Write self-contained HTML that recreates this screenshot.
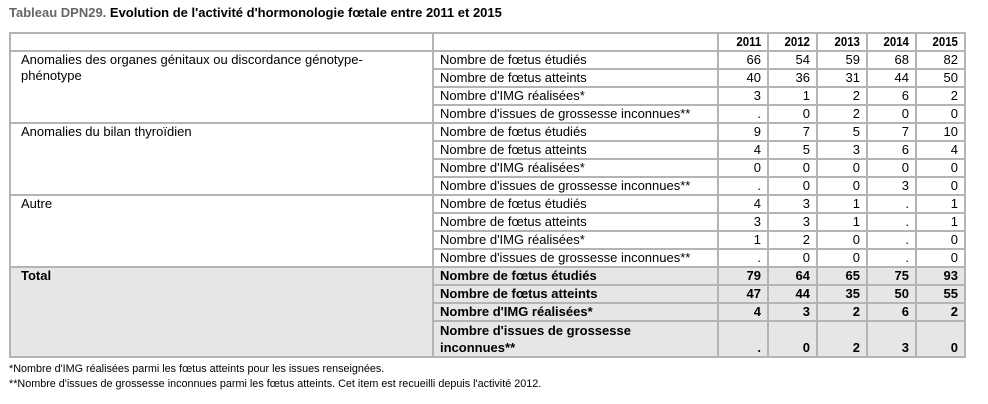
<!DOCTYPE html>
<html><head><meta charset="utf-8"><style>
body{margin:0;background:#fff;width:988px;height:404px;position:relative;font-family:"Liberation Sans",Arial,sans-serif;color:#000;overflow:hidden}
.title{position:absolute;left:9px;top:5px;font-size:13px;font-weight:bold;}
.title span{color:#666}
table{position:absolute;left:9px;top:32px;border-collapse:collapse;table-layout:fixed;width:955px;font-size:13px}
td{border:2px solid #b4b4b4;padding:0 6px;height:16px;line-height:16px;vertical-align:middle;white-space:nowrap;overflow:hidden}
td.n{text-align:right;padding-right:6px}
td.g{vertical-align:top;white-space:normal;padding-left:10px}
tr.h td{font-weight:bold;text-align:right;padding-right:6px;font-size:13px}
tr.h td span{display:inline-block;transform:scaleX(0.88);transform-origin:right}
.t td{background:#e6e6e6;font-weight:bold;font-size:13px}
.fn{position:absolute;left:9px;font-size:10.8px}
</style></head><body>
<div class="title"><span>Tableau DPN29.</span> Evolution de l'activité d'hormonologie fœtale entre 2011 et 2015</div>
<table>
<colgroup><col style="width:423px"><col style="width:285px"><col style="width:50px"><col style="width:49px"><col style="width:50px"><col style="width:49px"><col style="width:49px"></colgroup>
<tr class="h"><td></td><td></td><td><span>2011</span></td><td><span>2012</span></td><td><span>2013</span></td><td><span>2014</span></td><td><span>2015</span></td></tr>
<tr><td class="g" rowspan="4">Anomalies des organes génitaux ou discordance génotype-<br>phénotype</td><td>Nombre de fœtus étudiés</td><td class="n">66</td><td class="n">54</td><td class="n">59</td><td class="n">68</td><td class="n">82</td></tr>
<tr><td>Nombre de fœtus atteints</td><td class="n">40</td><td class="n">36</td><td class="n">31</td><td class="n">44</td><td class="n">50</td></tr>
<tr><td>Nombre d'IMG réalisées*</td><td class="n">3</td><td class="n">1</td><td class="n">2</td><td class="n">6</td><td class="n">2</td></tr>
<tr><td>Nombre d'issues de grossesse inconnues**</td><td class="n">.</td><td class="n">0</td><td class="n">2</td><td class="n">0</td><td class="n">0</td></tr>
<tr><td class="g" rowspan="4">Anomalies du bilan thyroïdien</td><td>Nombre de fœtus étudiés</td><td class="n">9</td><td class="n">7</td><td class="n">5</td><td class="n">7</td><td class="n">10</td></tr>
<tr><td>Nombre de fœtus atteints</td><td class="n">4</td><td class="n">5</td><td class="n">3</td><td class="n">6</td><td class="n">4</td></tr>
<tr><td>Nombre d'IMG réalisées*</td><td class="n">0</td><td class="n">0</td><td class="n">0</td><td class="n">0</td><td class="n">0</td></tr>
<tr><td>Nombre d'issues de grossesse inconnues**</td><td class="n">.</td><td class="n">0</td><td class="n">0</td><td class="n">3</td><td class="n">0</td></tr>
<tr><td class="g" rowspan="4">Autre</td><td>Nombre de fœtus étudiés</td><td class="n">4</td><td class="n">3</td><td class="n">1</td><td class="n">.</td><td class="n">1</td></tr>
<tr><td>Nombre de fœtus atteints</td><td class="n">3</td><td class="n">3</td><td class="n">1</td><td class="n">.</td><td class="n">1</td></tr>
<tr><td>Nombre d'IMG réalisées*</td><td class="n">1</td><td class="n">2</td><td class="n">0</td><td class="n">.</td><td class="n">0</td></tr>
<tr><td>Nombre d'issues de grossesse inconnues**</td><td class="n">.</td><td class="n">0</td><td class="n">0</td><td class="n">.</td><td class="n">0</td></tr>
<tr class="t"><td class="g" rowspan="4">Total</td><td>Nombre de fœtus étudiés</td><td class="n">79</td><td class="n">64</td><td class="n">65</td><td class="n">75</td><td class="n">93</td></tr>
<tr class="t"><td>Nombre de fœtus atteints</td><td class="n">47</td><td class="n">44</td><td class="n">35</td><td class="n">50</td><td class="n">55</td></tr>
<tr class="t"><td>Nombre d'IMG réalisées*</td><td class="n">4</td><td class="n">3</td><td class="n">2</td><td class="n">6</td><td class="n">2</td></tr>
<tr class="t"><td style="height:34px;line-height:17px">Nombre d'issues de grossesse<br>inconnues**</td><td class="n" style="vertical-align:bottom">.</td><td class="n" style="vertical-align:bottom">0</td><td class="n" style="vertical-align:bottom">2</td><td class="n" style="vertical-align:bottom">3</td><td class="n" style="vertical-align:bottom">0</td></tr>
</table>
<div class="fn" style="top:363px">*Nombre d'IMG réalisées parmi les fœtus atteints pour les issues renseignées.</div>
<div class="fn" style="top:378px">**Nombre d'issues de grossesse inconnues parmi les fœtus atteints. Cet item est recueilli depuis l'activité 2012.</div>
</body></html>
